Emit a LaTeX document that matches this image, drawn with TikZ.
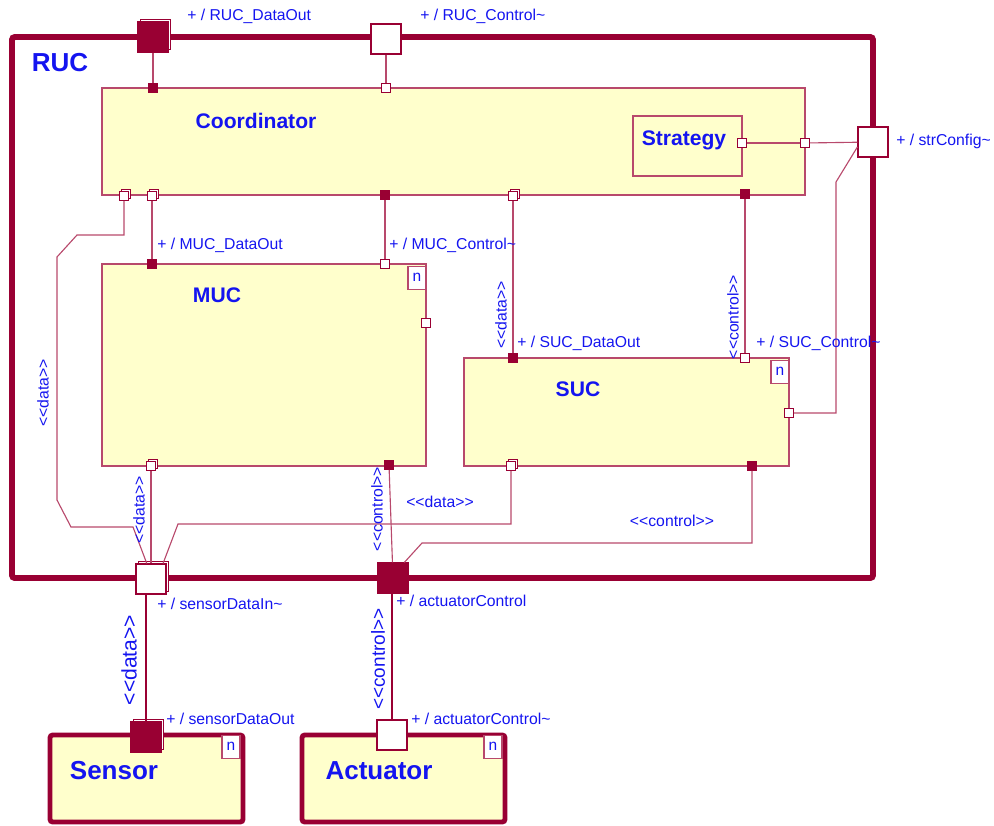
\documentclass[tikz,border=0pt]{standalone}
\usepackage{fontspec}
\setmainfont{Liberation Sans}[Ligatures=TeXOff]
\usetikzlibrary{positioning, fit, shadows}
\definecolor{ucred}{HTML}{990033}
\definecolor{ucline}{HTML}{B8496C}
\definecolor{ucblue}{HTML}{1414F0}
\definecolor{ucyellow}{HTML}{FFFFCC}
\tikzset{
  capsule/.style={rectangle, rounded corners=2pt, draw=ucred, line width=4.2pt, inner sep=0pt},
  part/.style={rectangle, draw=ucline, line width=0.8pt, fill=ucyellow, inner sep=0pt},
  actor/.style={rectangle, rounded corners=2pt, draw=ucred, line width=3.5pt, fill=ucyellow, inner sep=0pt},
  ntab/.style={rectangle, draw=ucline, line width=0.8pt, fill=white, anchor=north east, minimum width=0.45cm,
    minimum height=0.58cm, inner sep=0pt, font=\fontsize{11}{13}\selectfont, text=ucblue},
  bigport/.style={rectangle, draw=ucred, line width=0.8pt, fill=white, minimum size=0.75cm, inner sep=0pt},
  bigportf/.style={bigport, fill=ucred},
  pin/.style={rectangle, draw=ucred, line width=0.7pt, fill=white, minimum size=0.22cm, inner sep=0pt},
  pinf/.style={pin, fill=ucred},
  stack/.style={general shadow={draw=ucred, fill=white, line width=0.7pt, shadow xshift=#1, shadow yshift=#1}},
  stack/.default=1.4pt,
  wire/.style={draw=ucline, line width=0.8pt},
  bus/.style={draw=ucred, line width=1.8pt},
  lbl/.style={font=\fontsize{11.2}{13}\selectfont, text=ucblue, anchor=west, inner sep=0pt},
  stereo/.style={font=\fontsize{11.2}{13}\selectfont, text=ucblue, inner sep=0pt},
  vstereo/.style={stereo, rotate=90},
  bigstereo/.style={font=\fontsize{15}{18}\selectfont, text=ucblue, rotate=90, inner sep=0pt},
  title/.style={font=\fontsize{15}{18}\selectfont\bfseries, text=ucblue, inner sep=0pt},
  bigtitle/.style={font=\fontsize{18.5}{22}\selectfont\bfseries, text=ucblue, inner sep=0pt},
}
\begin{document}
\begin{tikzpicture}[x=0.025cm, y=-0.025cm]
  \useasboundingbox (0,0) rectangle (994,825);

  \node[capsule, fit={(12,37) (873,578)}] (ruc) {};
  \node[part, fit={(102,88) (805,195)}] (coord) {};
  \node[part, fit={(633,116) (742,176)}] (strat) {};
  \node[part, fit={(102,264) (426,466)}] (muc) {};
  \node[part, fit={(464,358) (789,466)}] (suc) {};
  \node[actor, fit={(50,735) (243,822)}] (sensor) {};
  \node[actor, fit={(302,735) (505,822)}] (actuator) {};

  \node[ntab] at ([yshift=-1.5pt]muc.north east) {n};
  \node[ntab] at ([yshift=-1.5pt]suc.north east) {n};
  \node[ntab] at ([xshift=-3.5pt, yshift=-1.5pt]sensor.north east) {n};
  \node[ntab] at ([xshift=-3.5pt, yshift=-1.5pt]actuator.north east) {n};

  \node[bigtitle] at (60,63) {RUC};
  \node[title] at (256,121) {Coordinator};
  \node[title] at (684,140) {Strategy};
  \node[title] at (217,295) {MUC};
  \node[title] at (578,389) {SUC};
  \node[bigtitle] at (114,771) {Sensor};
  \node[bigtitle] at (379,771) {Actuator};

  \node[bigportf, stack=2pt] (rdo) at (153,37) {};
  \node[bigport] (rctl) at (386,39) {};
  \node[bigport] (rstr) at (873,142) {};
  \node[bigport, stack=2pt] (rsdin) at (151,579) {};
  \node[bigportf] (ract) at (393,578) {};
  \node[bigportf, stack=2pt] (sdo) at (146,737) {};
  \node[bigport] (aci) at (392,735) {};

  \node[pinf] (ctop1) at (153,88) {};
  \node[pin] (ctop2) at (386,88) {};
  \node[pin] (cright) at (805,143) {};
  \node[pin] (spin) at (742,143) {};
  \node[pin, stack] (cbot1) at (124,196) {};
  \node[pin, stack] (cbot2) at (152,196) {};
  \node[pinf] (cbot3) at (385,195) {};
  \node[pin, stack] (cbot4) at (513,196) {};
  \node[pinf] (cbot5) at (745,194) {};

  \node[pinf] (mtop1) at (152,264) {};
  \node[pin] (mtop2) at (385,264) {};
  \node[pin] (mright) at (426,323) {};
  \node[pin, stack] (mbot1) at (151,466) {};
  \node[pinf] (mbot2) at (389,465) {};

  \node[pinf] (stop1) at (513,358) {};
  \node[pin] (stop2) at (745,358) {};
  \node[pin] (sright) at (789,413) {};
  \node[pin, stack] (sbot1) at (511,466) {};
  \node[pinf] (sbot2) at (752,466) {};

  \draw[wire] (rdo) -- (ctop1);
  \draw[wire] (rctl) -- (ctop2);
  \draw[wire] (spin) -- (cright);
  \draw[wire] (cright) -- (rstr);
  \draw[wire] ([yshift=-3.5pt]rstr.west) -- (836,182) -- (836,413) -- (sright);
  \draw[wire] (cbot1) -- (124,235) -- (77,235) -- (57,257) -- (57,500) -- (71,527) -- (133,527)
    -- ([xshift=-3pt]rsdin.north);
  \draw[wire] (cbot2) -- (mtop1);
  \draw[wire] (cbot3) -- (mtop2);
  \draw[wire] (cbot4) -- (stop1);
  \draw[wire] (cbot5) -- (stop2);
  \draw[wire] (mbot1) -- (rsdin);
  \draw[wire] (mbot2) -- (ract);
  \draw[wire] ([xshift=-2.5pt]rsdin.north east) -- (178,524) -| (sbot1);
  \draw[wire] ([xshift=-3pt]ract.north east) -- (422,543) -| (sbot2);
  \draw[bus] (rsdin.south -| sdo) -- (sdo);
  \draw[bus] (ract.south -| aci) -- (aci);

  \node[lbl] at (187,16) {+ / RUC\_DataOut};
  \node[lbl] at (420,16) {+ / RUC\_Control\char`~};
  \node[lbl] at (896,141) {+ / strConfig\char`~};
  \node[lbl] at (157,245) {+ / MUC\_DataOut};
  \node[lbl] at (389,245) {+ / MUC\_Control\char`~};
  \node[lbl] at (517,343) {+ / SUC\_DataOut};
  \node[lbl] at (756,343) {+ / SUC\_Control\char`~};
  \node[lbl] at (157,604) {+ / sensorDataIn\char`~};
  \node[lbl] at (396,601) {+ / actuatorControl};
  \node[lbl] at (166,719) {+ / sensorDataOut};
  \node[lbl] at (411,719) {+ / actuatorControl\char`~};

  \node[vstereo] at (43,393) {<<data>>};
  \node[vstereo] at (139,510) {<<data>>};
  \node[vstereo] at (377,509) {<<control>>};
  \node[vstereo] at (501,315) {<<data>>};
  \node[vstereo] at (733,317) {<<control>>};
  \node[stereo] at (440,502) {<<data>>};
  \node[stereo] at (672,521) {<<control>>};
  \node[bigstereo] at (129,660) {<<data>>};
  \node[bigstereo, font=\fontsize{13.5}{16}\selectfont] at (378,659) {<<control>>};
\end{tikzpicture}
\end{document}
